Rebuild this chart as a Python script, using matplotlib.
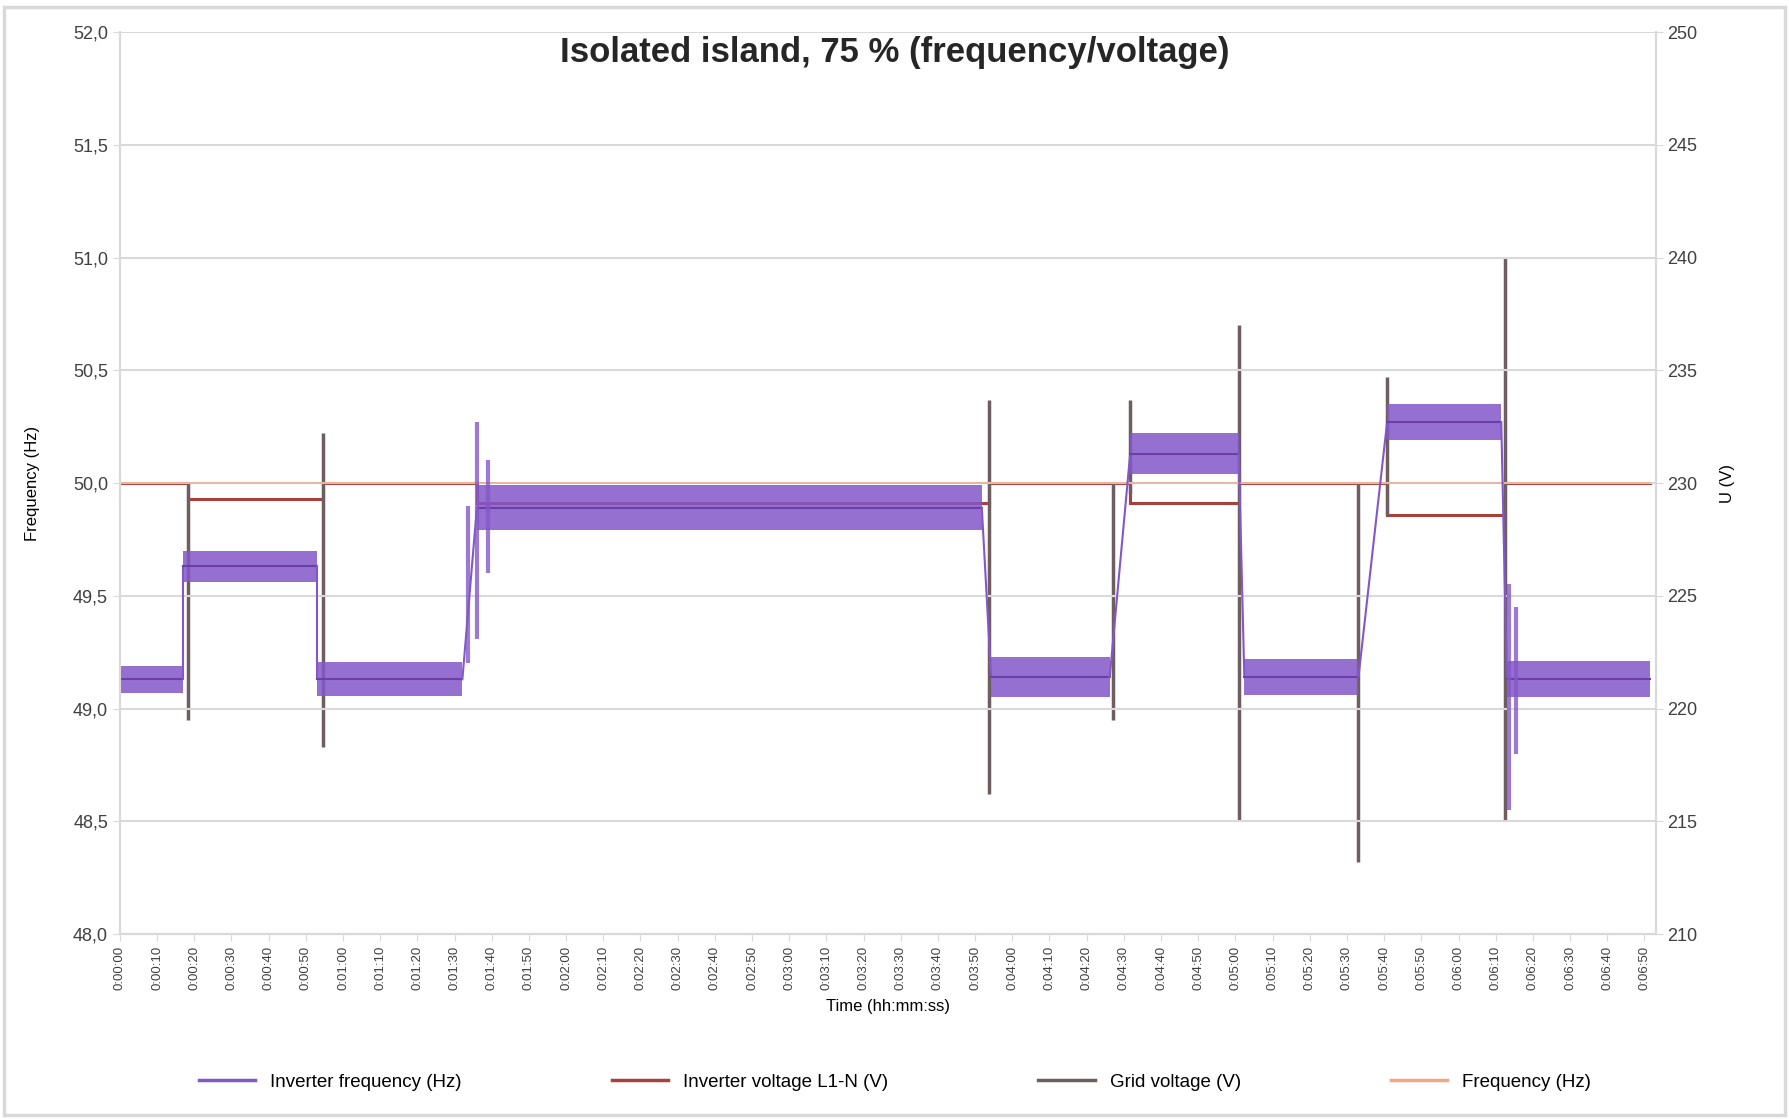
import matplotlib.pyplot as plt
from matplotlib.patches import Rectangle

plt.rcParams["font.family"] = ["Liberation Sans", "DejaVu Sans"]

# time axis (s) and tick labels
TICKS = list(range(0, 420, 10))
TICK_LABELS = [f"0:{t // 60:02d}:{t % 60:02d}" for t in TICKS]

# inverter frequency (Hz): steady segments, centre and half-width of the oscillation band
seg_start = [0.0, 16.9, 53.1, 96.0, 234.3, 271.7, 302.4, 340.8, 373.0]
seg_end = [16.9, 53.1, 92.1, 231.8, 266.2, 300.9, 333.1, 371.5, 411.4]
f_mid = [49.13, 49.63, 49.13, 49.89, 49.14, 50.13, 49.14, 50.27, 49.13]
f_half = [0.06, 0.07, 0.075, 0.10, 0.09, 0.09, 0.08, 0.08, 0.08]

# frequency transients at switching
fsp_t = [93.5, 96.1, 99.0, 373.5, 375.5]
fsp_lo = [49.20, 49.31, 49.60, 48.55, 48.80]
fsp_hi = [49.90, 50.27, 50.10, 49.55, 49.45]

# inverter voltage (V), step segments
v_start = [0.0, 18.4, 54.7, 96.1, 233.7, 271.7, 300.9, 340.8, 372.4]
v_end = [18.4, 54.7, 96.1, 233.7, 271.7, 300.9, 340.8, 372.4, 411.4]
v_val = [230.0, 229.3, 230.0, 229.1, 230.0, 229.1, 230.0, 228.6, 230.0]

# grid voltage spikes (V)
sp_t = [18.4, 54.7, 233.7, 267.1, 271.7, 300.9, 333.1, 340.8, 372.4]
sp_hi = [230.0, 232.2, 233.7, 230.0, 233.7, 237.0, 230.0, 234.7, 240.0]
sp_lo = [219.5, 218.3, 216.2, 219.5, 229.5, 215.0, 213.2, 228.6, 215.0]

# reference frequency (Hz)
ref_t = [0.0, 411.4]
ref_f = [50.0, 50.0]

F_TICKS = [48.0, 48.5, 49.0, 49.5, 50.0, 50.5, 51.0, 51.5, 52.0]
V_TICKS = [210, 215, 220, 225, 230, 235, 240, 245, 250]

PURPLE = "#8457C8"
RED = "#A8403E"
GREY = "#6E5E60"
ORANGE = "#F4A582"
GRID = "#d9d9d9"

fig = plt.figure(figsize=(17.9, 11.19), dpi=100)
ax = fig.add_axes([0.067, 0.1653, 0.8579, 0.8061])
ax2 = ax.twinx()
ax.set_zorder(ax2.get_zorder() + 1)
ax.patch.set_visible(False)

# voltage series on the right axis
for i in range(len(v_val)):
    ax2.plot([v_start[i], v_end[i]], [v_val[i], v_val[i]], color=RED, lw=2.2)
    if i + 1 < len(v_val):
        ax2.plot([v_end[i], v_start[i + 1]], [v_val[i], v_val[i + 1]], color=RED, lw=2.2)
ax2.vlines(sp_t, sp_lo, sp_hi, color=GREY, lw=2.5)

# frequency series on the left axis
ax.plot(ref_t, ref_f, color=ORANGE, lw=1.2, alpha=0.8)
for i in range(len(f_mid)):
    ax.fill_between([seg_start[i], seg_end[i]],
                    [f_mid[i] - f_half[i]] * 2, [f_mid[i] + f_half[i]] * 2,
                    color=PURPLE, alpha=0.85, lw=0)
    ax.plot([seg_start[i], seg_end[i]], [f_mid[i], f_mid[i]], color="#6A3FA8", lw=1.5)
    if i + 1 < len(f_mid):
        ax.plot([seg_end[i], seg_start[i + 1]], [f_mid[i], f_mid[i + 1]], color=PURPLE, lw=1.5)
ax.vlines(fsp_t, fsp_lo, fsp_hi, color=PURPLE, lw=3, alpha=0.8)

ax.set_xlim(0, 413)
ax.set_ylim(48, 52)
ax2.set_ylim(210, 250)
ax.set_xticks(TICKS)
ax.set_xticklabels(TICK_LABELS, rotation=90, fontsize=9.5, color="#404040")
ax.set_yticks(F_TICKS)
ax.set_yticklabels([f"{v:.1f}".replace(".", ",") for v in F_TICKS], fontsize=13, color="#404040")
ax2.set_yticks(V_TICKS)
ax2.set_yticklabels([str(v) for v in V_TICKS], fontsize=13, color="#404040")
ax.grid(axis="y", color=GRID, lw=1.5)
for a in (ax, ax2):
    for s in a.spines.values():
        s.set_color(GRID)
        s.set_linewidth(1.5)
    a.spines["top"].set_visible(False)
    a.tick_params(colors=GRID, labelcolor="#404040", length=5)

ax.set_ylabel("Frequency (Hz)", fontsize=12, labelpad=24)
ax2.set_ylabel("U (V)", fontsize=12, labelpad=16)
ax.set_xlabel("Time (hh:mm:ss)", fontsize=12, labelpad=6)

fig.text(0.5, 0.953, "Isolated island, 75 % (frequency/voltage)",
         ha="center", va="center", fontsize=25, fontweight="bold", color="#262626")

handles = [
    plt.Line2D([], [], color=PURPLE, lw=2.5),
    plt.Line2D([], [], color=RED, lw=2.5),
    plt.Line2D([], [], color=GREY, lw=2.5),
    plt.Line2D([], [], color=ORANGE, lw=2.5),
]
labels = ["Inverter frequency (Hz)", "Inverter voltage L1-N (V)",
          "Grid voltage (V)", "Frequency (Hz)"]
fig.legend(handles, labels, loc="center", bbox_to_anchor=(0.5, 0.033), ncol=4,
           frameon=False, fontsize=13.5, columnspacing=8, handlelength=3)

fig.patches.append(Rectangle((0.002, 0.004), 0.995, 0.99, transform=fig.transFigure,
                             fill=False, edgecolor=GRID, lw=2.5))

fig.savefig("out.png", dpi=100)
